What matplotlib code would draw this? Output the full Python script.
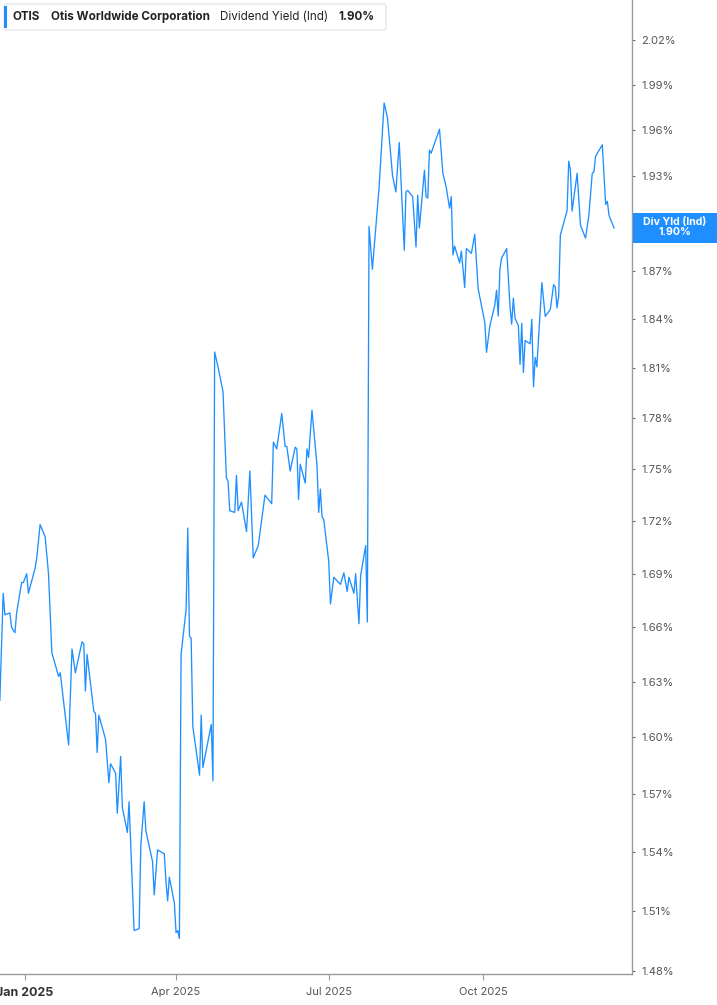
import numpy as np
import pandas as pd
import matplotlib
matplotlib.use("Agg")
import matplotlib.pyplot as plt
from matplotlib.patches import Rectangle, FancyBboxPatch

plt.rcParams['font.family'] = ['Inter', 'DejaVu Sans']

# --- Data (dividend yield, %) ---
dates = [
    "2024-12-17", "2024-12-19", "2024-12-20", "2024-12-23", "2024-12-24", "2024-12-26",
    "2024-12-27", "2024-12-30", "2024-12-31", "2025-01-02", "2025-01-03", "2025-01-07",
    "2025-01-08", "2025-01-10", "2025-01-13", "2025-01-15", "2025-01-17", "2025-01-21",
    "2025-01-22", "2025-01-27", "2025-01-29", "2025-01-31", "2025-02-04", "2025-02-05",
    "2025-02-06", "2025-02-07", "2025-02-11", "2025-02-12", "2025-02-13", "2025-02-14",
    "2025-02-18", "2025-02-20", "2025-02-21", "2025-02-24", "2025-02-25", "2025-02-27",
    "2025-02-28", "2025-03-03", "2025-03-04", "2025-03-06", "2025-03-07", "2025-03-10",
    "2025-03-11", "2025-03-13", "2025-03-14", "2025-03-18", "2025-03-19", "2025-03-21",
    "2025-03-25", "2025-03-26", "2025-03-27", "2025-03-28", "2025-03-31", "2025-04-01",
    "2025-04-02", "2025-04-03", "2025-04-04", "2025-04-07", "2025-04-08", "2025-04-09",
    "2025-04-10", "2025-04-11", "2025-04-15", "2025-04-16", "2025-04-17", "2025-04-22",
    "2025-04-23", "2025-04-24", "2025-04-26", "2025-04-29", "2025-05-01", "2025-05-02",
    "2025-05-03", "2025-05-06", "2025-05-07", "2025-05-08", "2025-05-10", "2025-05-13",
    "2025-05-15", "2025-05-17", "2025-05-20", "2025-05-24", "2025-05-28", "2025-05-29",
    "2025-05-31", "2025-06-03", "2025-06-05", "2025-06-06", "2025-06-08", "2025-06-11",
    "2025-06-12", "2025-06-13", "2025-06-14", "2025-06-17", "2025-06-18", "2025-06-19",
    "2025-06-21", "2025-06-24", "2025-06-25", "2025-06-26", "2025-06-27", "2025-06-28",
    "2025-07-01", "2025-07-02", "2025-07-04", "2025-07-08", "2025-07-10", "2025-07-12",
    "2025-07-13", "2025-07-16", "2025-07-17", "2025-07-19", "2025-07-20", "2025-07-23",
    "2025-07-24", "2025-07-25", "2025-07-27", "2025-07-31", "2025-08-03", "2025-08-05",
    "2025-08-08", "2025-08-10", "2025-08-12", "2025-08-15", "2025-08-16", "2025-08-17",
    "2025-08-20", "2025-08-22", "2025-08-23", "2025-08-24", "2025-08-27", "2025-08-28",
    "2025-08-29", "2025-08-30", "2025-08-31", "2025-09-05", "2025-09-07", "2025-09-09",
    "2025-09-11", "2025-09-12", "2025-09-13", "2025-09-14", "2025-09-17", "2025-09-18",
    "2025-09-20", "2025-09-21", "2025-09-24", "2025-09-26", "2025-09-28", "2025-10-02",
    "2025-10-03", "2025-10-05", "2025-10-08", "2025-10-09", "2025-10-10", "2025-10-11",
    "2025-10-12", "2025-10-15", "2025-10-17", "2025-10-18", "2025-10-19", "2025-10-20",
    "2025-10-22", "2025-10-23", "2025-10-24", "2025-10-25", "2025-10-26", "2025-10-29",
    "2025-10-30", "2025-10-31", "2025-11-01", "2025-11-02", "2025-11-05", "2025-11-07",
    "2025-11-10", "2025-11-12", "2025-11-13", "2025-11-14", "2025-11-15", "2025-11-16",
    "2025-11-20", "2025-11-21", "2025-11-22", "2025-11-23", "2025-11-26", "2025-11-28",
    "2025-12-01", "2025-12-03", "2025-12-05", "2025-12-06", "2025-12-07", "2025-12-11",
    "2025-12-13", "2025-12-14", "2025-12-15", "2025-12-18",
]
yields = [
    1.620, 1.679, 1.667, 1.668, 1.660, 1.657,
    1.668, 1.685, 1.685, 1.690, 1.679, 1.693,
    1.699, 1.718, 1.711, 1.690, 1.646, 1.633,
    1.635, 1.596, 1.648, 1.635, 1.652, 1.651,
    1.625, 1.645, 1.614, 1.613, 1.592, 1.612,
    1.599, 1.576, 1.586, 1.581, 1.560, 1.590,
    1.563, 1.550, 1.566, 1.521, 1.500, 1.501,
    1.543, 1.566, 1.551, 1.535, 1.518, 1.541,
    1.539, 1.525, 1.515, 1.527, 1.514, 1.499,
    1.500, 1.496, 1.645, 1.670, 1.716, 1.655,
    1.654, 1.606, 1.580, 1.612, 1.584, 1.607,
    1.577, 1.820, 1.811, 1.796, 1.745, 1.743,
    1.726, 1.725, 1.7465, 1.726, 1.731, 1.714,
    1.749, 1.699, 1.706, 1.735, 1.730, 1.766,
    1.762, 1.783, 1.7635, 1.7635, 1.749, 1.763,
    1.762, 1.7325, 1.753, 1.742, 1.762, 1.757,
    1.785, 1.752, 1.725, 1.7385, 1.7225, 1.721,
    1.697, 1.673, 1.688, 1.684, 1.6905, 1.680,
    1.688, 1.679, 1.690, 1.662, 1.689, 1.706,
    1.663, 1.898, 1.871, 1.923, 1.978, 1.968,
    1.9306, 1.920, 1.952, 1.883, 1.920, 1.921,
    1.917, 1.885, 1.918, 1.897, 1.934, 1.917,
    1.916, 1.947, 1.945, 1.9607, 1.932, 1.923,
    1.9096, 1.917, 1.880, 1.8856, 1.875, 1.8825,
    1.8596, 1.884, 1.881, 1.893, 1.859, 1.838,
    1.8198, 1.836, 1.849, 1.858, 1.842, 1.871,
    1.878, 1.884, 1.848, 1.837, 1.853, 1.8406,
    1.836, 1.8125, 1.8375, 1.8076, 1.827, 1.825,
    1.840, 1.799, 1.8167, 1.811, 1.8627, 1.8418,
    1.846, 1.8614, 1.860, 1.847, 1.854, 1.8925,
    1.908, 1.9398, 1.934, 1.9077, 1.932, 1.8988,
    1.8906, 1.905, 1.932, 1.933, 1.943, 1.9505,
    1.912, 1.914, 1.905, 1.897,
]
ytick_vals = [1.48, 1.51, 1.54, 1.57, 1.60, 1.63, 1.66, 1.69, 1.72, 1.75,
              1.78, 1.81, 1.84, 1.87, 1.93, 1.96, 1.99, 2.02]
xtick_dates = ["2025-01-01", "2025-04-01", "2025-07-01", "2025-10-01"]
xtick_labels = ["Jan 2025", "Apr 2025", "Jul 2025", "Oct 2025"]
ticker = "OTIS"
company = "Otis Worldwide Corporation"
metric = "Dividend Yield (Ind)"
last_label = "1.90%"

BLUE = "#1f8fff"
GREY = "#9a9a9a"
W, H = 717, 1005

x = pd.to_datetime(dates)
fig = plt.figure(figsize=(W / 100, H / 100), dpi=100)
ax = fig.add_axes([0, 1 - 974 / H, 632 / W, 974 / H])

ax.plot(x, yields, color=BLUE, lw=0.95)

ax.set_yscale("log")
ax.set_ylim(1.4784, 2.0472)
t0 = pd.Timestamp("2025-01-01")
ax.set_xlim(t0 - pd.Timedelta(days=14.9), t0 + pd.Timedelta(days=361.7))

for s in ["top", "left"]:
    ax.spines[s].set_visible(False)
for s in ["right", "bottom"]:
    ax.spines[s].set_color(GREY)
    ax.spines[s].set_linewidth(1.0)

ax.yaxis.tick_right()
ax.yaxis.set_minor_locator(matplotlib.ticker.NullLocator())
ax.set_yticks(ytick_vals)
ax.set_yticklabels([f"{v:.2f}%" for v in ytick_vals])
ax.tick_params(axis="y", which="major", length=2.5, width=0.8, color="#666666",
               labelsize=8, labelcolor="#555555", pad=4)

ax.set_xticks(pd.to_datetime(xtick_dates))
ax.set_xticklabels(xtick_labels)
ax.tick_params(axis="x", length=4, width=0.8, color=GREY,
               labelsize=8, labelcolor="#555555", pad=5)
first = ax.get_xticklabels()[0]
first.set_fontweight("bold")
first.set_fontsize(9)
first.set_color("#333333")

# header box
fig.patches.append(FancyBboxPatch((4 / W, 1 - 30 / H), 382 / W, 26 / H,
                                  boxstyle="round,pad=0,rounding_size=0.003",
                                  transform=fig.transFigure, facecolor="white",
                                  edgecolor="#e2e2e2", lw=0.8, zorder=5))
fig.patches.append(Rectangle((4 / W, 1 - 28 / H), 3 / W, 22 / H,
                             transform=fig.transFigure, facecolor=BLUE,
                             edgecolor="none", zorder=6))
hy = 1 - 17 / H
fig.text(13 / W, hy, ticker, fontsize=8.4, fontweight="bold", color="#222222", va="center", zorder=7)
fig.text(51 / W, hy, company, fontsize=8.4, fontweight="bold", color="#222222", va="center", zorder=7)
fig.text(220 / W, hy, metric, fontsize=8.4, color="#222222", va="center", zorder=7)
fig.text(338 / W, hy, last_label, fontsize=8.4, fontweight="bold", color="#222222", va="center", zorder=7)

# last value marker on the right axis
fig.canvas.draw()
ypix = ax.transData.transform((ax.get_xlim()[0], yields[-1]))[1]
yf = ypix / H
fig.patches.append(Rectangle((633 / W, yf - 15 / H), 84 / W, 30 / H,
                             transform=fig.transFigure, facecolor=BLUE,
                             edgecolor="none", zorder=6))
fig.text(675 / W, yf + 1 / H, "Div Yld (Ind)\n" + last_label, fontsize=7.6,
         fontweight="bold", color="white", ha="center", va="center",
         linespacing=1.05, zorder=7)

fig.savefig("out.png", dpi=100)
